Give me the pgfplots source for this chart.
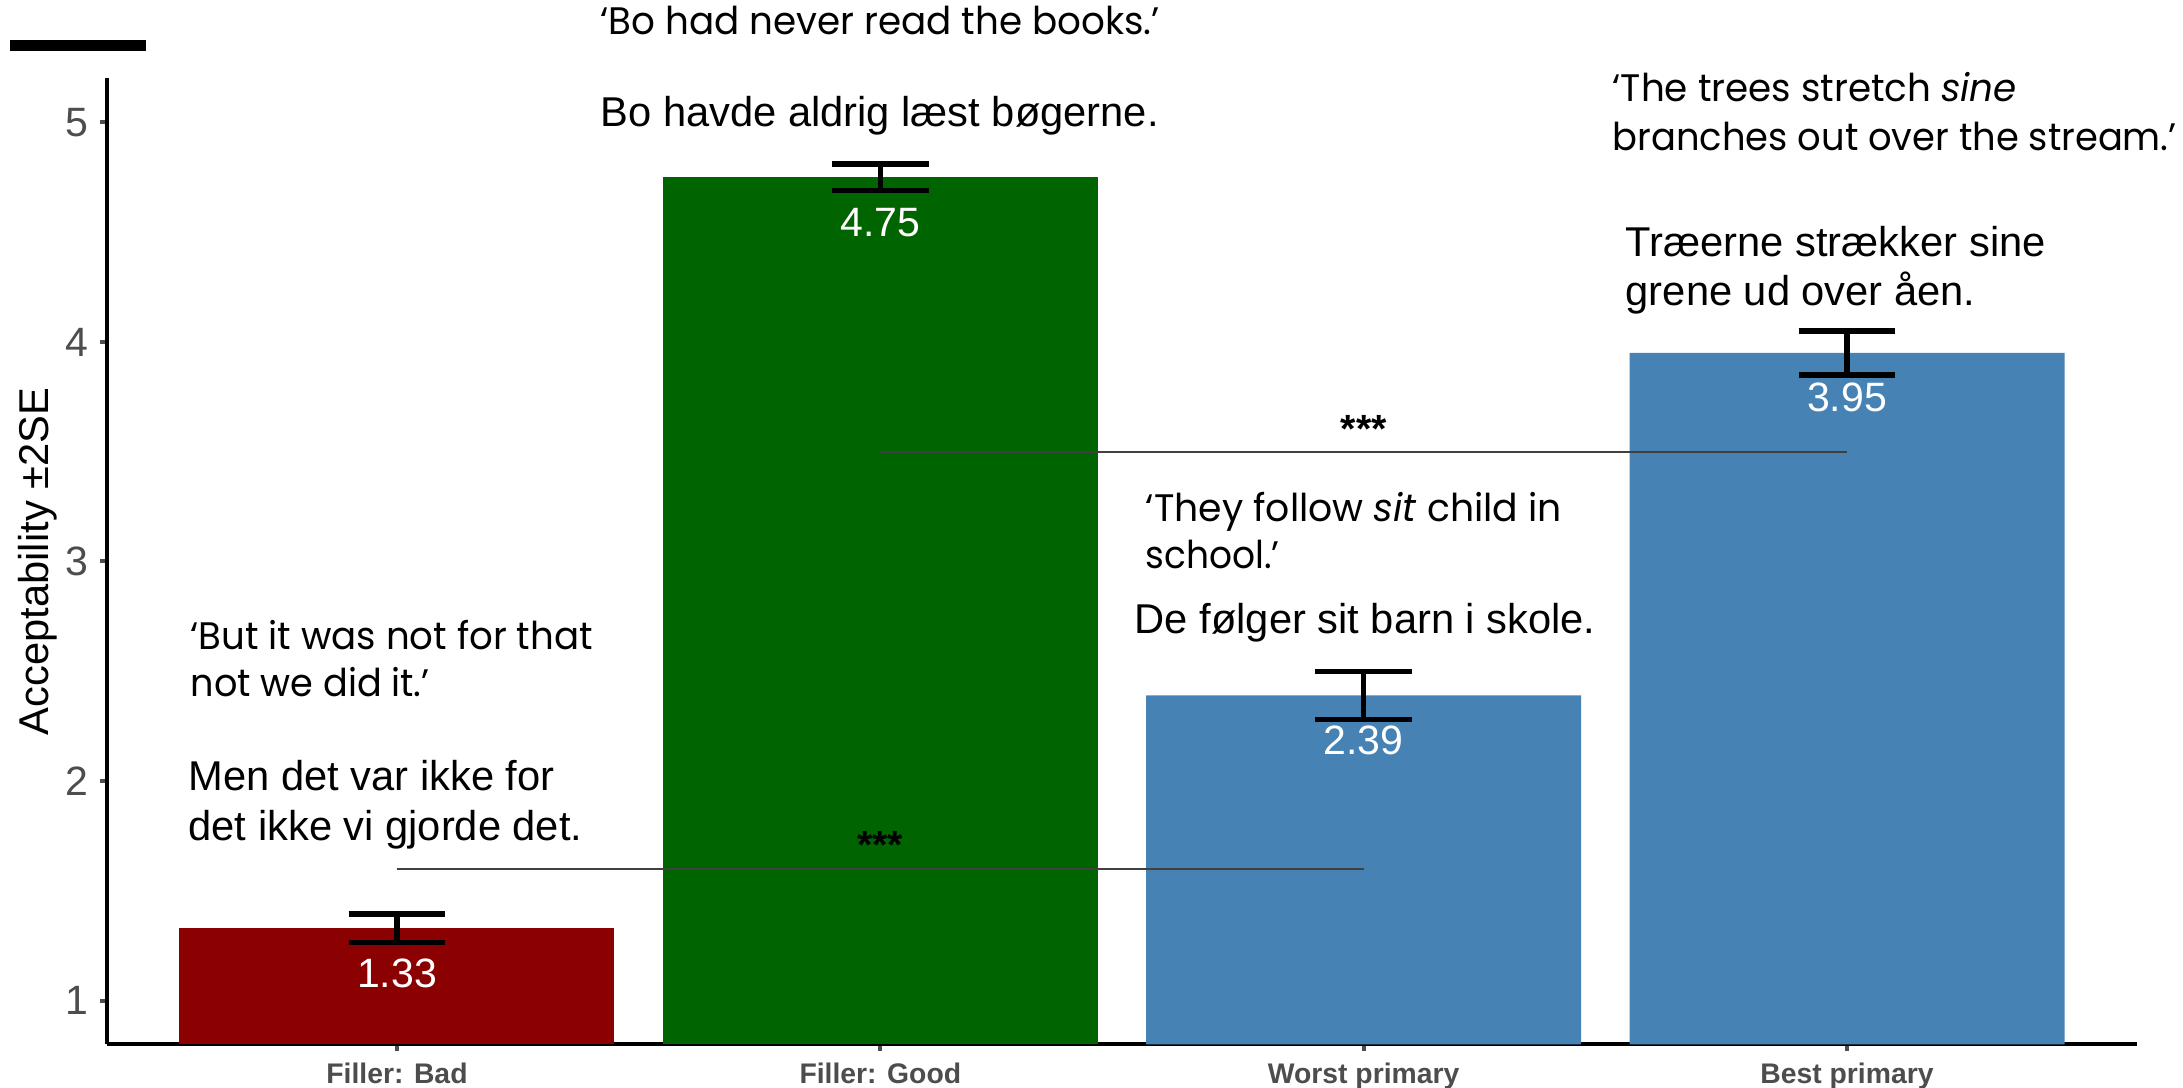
\documentclass[border=0pt]{standalone}
\usepackage{fontspec}
\setmainfont{Liberation Sans}
\newfontfamily\gloss{Poppins}
\usepackage{graphicx}
\usepackage{pgfplots}
\pgfplotsset{compat=1.18}
\definecolor{barred}{HTML}{8B0000}
\definecolor{bargreen}{HTML}{006400}
\definecolor{barblue}{HTML}{4682B4}
\definecolor{tickgray}{HTML}{4D4D4D}
\tikzset{gl/.style={anchor=base west, inner sep=0pt, font=\gloss\fontsize{11.5}{14}\selectfont},
         dk/.style={anchor=base west, inner sep=0pt, font=\fontsize{12.5}{15}\selectfont}}
\newcommand{\gw}[2]{\resizebox{#1}{\height}{#2}}
\begin{document}
\begin{tikzpicture}
\begin{axis}[
  scale only axis, width=609pt, height=289.8pt,
  xmin=0.4, xmax=4.6, ymin=0.8, ymax=5.2,
  axis x line*=bottom, axis y line*=left,
  axis line style={line width=1.2pt, black},
  xtick={1,2,3,4},
  xticklabels={Filler: Bad, Filler: Good, Worst primary, Best primary},
  ytick={1,2,3,4,5},
  tick align=outside, major tick length=2pt,
  tick style={line width=1.2pt, tickgray},
  xticklabel style={font=\fontsize{8.5}{10}\selectfont\bfseries, text=tickgray},
  yticklabel style={font=\fontsize{12.3}{14}\selectfont, text=tickgray},
  /pgf/number format/assume math mode=true,
  every axis y label/.style={at={(axis description cs:-0.034,0.5)}, rotate=90, anchor=center, font=\fontsize{12.5}{15}\selectfont},
  ylabel={Acceptability ±2SE},
  clip mode=individual,
  ybar, bar width=0.9, bar shift=0pt,
  every node near coord/.append style={white, anchor=base, yshift=-17.7pt, font=\fontsize{12.3}{14}\selectfont, /pgf/number format/.cd, fixed, precision=2, fixed zerofill, assume math mode=true},
  error bars/error bar style={line width=1.6pt, black},
  error bars/error mark options={rotate=90, line width=1.6pt, mark size=14.5pt, black},
]
\addplot[fill=barred, draw=none, bar shift=0pt, nodes near coords,
  error bars/.cd, y dir=both, y explicit]
  coordinates {(1,1.33) +- (0,0.065)};
\addplot[fill=bargreen, draw=none, bar shift=0pt, nodes near coords,
  error bars/.cd, y dir=both, y explicit]
  coordinates {(2,4.75) +- (0,0.06)};
\addplot[fill=barblue, draw=none, bar shift=0pt, nodes near coords,
  error bars/.cd, y dir=both, y explicit]
  coordinates {(3,2.39) +- (0,0.11) (4,3.95) +- (0,0.10)};
% significance brackets
\addplot[sharp plot, no marks, line width=0.5pt, color=black!75] coordinates {(1,1.6) (3,1.6)};
\addplot[sharp plot, no marks, line width=0.5pt, color=black!75] coordinates {(2,3.5) (4,3.5)};
\node[anchor=base, inner sep=0pt, font=\fontsize{11.8}{14}\selectfont\bfseries] at (axis cs:2,1.648) {***};
\node[anchor=base, inner sep=0pt, font=\fontsize{11.8}{14}\selectfont\bfseries] at (axis cs:3,3.54) {***};
% annotations
\node[gl] at (axis cs:0.5717,2.597) {\gw{120.6pt}{‘But it was not for that}};
\node[gl] at (axis cs:0.5717,2.383) {\gw{71.7pt}{not we did it.’}};
\node[dk] at (axis cs:0.5676,1.955) {Men det var ikke for};
\node[dk] at (axis cs:0.5676,1.731) {det ikke vi gjorde det.};
\node[gl] at (axis cs:1.42,5.398) {\gw{167.7pt}{‘Bo had never read the books.’}};
\node[dk] at (axis cs:1.42,4.979) {Bo havde aldrig læst bøgerne.};
\node[gl] at (axis cs:3.514,5.093) {\gw{121.2pt}{‘The trees stretch \textit{sine}}};
\node[gl] at (axis cs:3.514,4.870) {\gw{169.2pt}{branches out over the stream.’}};
\node[dk] at (axis cs:3.541,4.387) {Træerne strækker sine};
\node[dk] at (axis cs:3.541,4.168) {grene ud over åen.};
\node[gl] at (axis cs:2.548,3.184) {\gw{124.8pt}{‘They follow \textit{sit} child in}};
\node[gl] at (axis cs:2.548,2.970) {\gw{40.2pt}{school.’}};
\node[dk] at (axis cs:2.525,2.670) {De følger sit barn i skole.};
\draw[line width=3.3pt, black] (axis cs:0.1993,5.35) -- (axis cs:0.4807,5.35);
\coordinate (bbsw) at (rel axis cs:-0.05271,-0.04503);
\coordinate (bbne) at (rel axis cs:1.02266,1.08126);
\end{axis}
\pgfresetboundingbox
\path[use as bounding box] (bbsw) rectangle (bbne);
\end{tikzpicture}
\end{document}
